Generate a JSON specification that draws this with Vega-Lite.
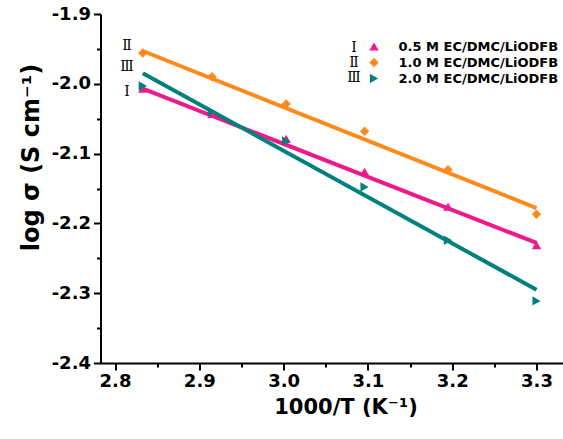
{
  "$schema": "https://vega.github.io/schema/vega-lite/v6.json",
  "width": 462,
  "height": 349,
  "autosize": {"type": "none"},
  "padding": {"left": 100.5, "top": 14, "right": 0, "bottom": 76},
  "background": "white",
  "config": {
    "view": {"stroke": null},
    "font": "DejaVu Sans",
    "axis": {"grid": false, "domainColor": "black", "tickColor": "black", "labelColor": "black", "titleColor": "black"}
  },
  "datasets": {
    "fits": [
      {"series": "0.5 M EC/DMC/LiODFB", "x": 2.833, "y": -2.007},
      {"series": "0.5 M EC/DMC/LiODFB", "x": 3.300, "y": -2.228},
      {"series": "1.0 M EC/DMC/LiODFB", "x": 2.833, "y": -1.953},
      {"series": "1.0 M EC/DMC/LiODFB", "x": 3.300, "y": -2.178},
      {"series": "2.0 M EC/DMC/LiODFB", "x": 2.833, "y": -1.985},
      {"series": "2.0 M EC/DMC/LiODFB", "x": 3.300, "y": -2.295}
    ],
    "points": [
      {"series": "0.5 M EC/DMC/LiODFB", "x": 2.833, "y": -2.007},
      {"series": "0.5 M EC/DMC/LiODFB", "x": 2.915, "y": -2.043},
      {"series": "0.5 M EC/DMC/LiODFB", "x": 3.003, "y": -2.079},
      {"series": "0.5 M EC/DMC/LiODFB", "x": 3.096, "y": -2.126},
      {"series": "0.5 M EC/DMC/LiODFB", "x": 3.195, "y": -2.176},
      {"series": "0.5 M EC/DMC/LiODFB", "x": 3.300, "y": -2.231},
      {"series": "1.0 M EC/DMC/LiODFB", "x": 2.833, "y": -1.956},
      {"series": "1.0 M EC/DMC/LiODFB", "x": 2.915, "y": -1.990},
      {"series": "1.0 M EC/DMC/LiODFB", "x": 3.003, "y": -2.029},
      {"series": "1.0 M EC/DMC/LiODFB", "x": 3.096, "y": -2.068},
      {"series": "1.0 M EC/DMC/LiODFB", "x": 3.195, "y": -2.123},
      {"series": "1.0 M EC/DMC/LiODFB", "x": 3.300, "y": -2.187},
      {"series": "2.0 M EC/DMC/LiODFB", "x": 2.833, "y": -2.003},
      {"series": "2.0 M EC/DMC/LiODFB", "x": 2.915, "y": -2.040},
      {"series": "2.0 M EC/DMC/LiODFB", "x": 3.003, "y": -2.082},
      {"series": "2.0 M EC/DMC/LiODFB", "x": 3.096, "y": -2.148},
      {"series": "2.0 M EC/DMC/LiODFB", "x": 3.195, "y": -2.224},
      {"series": "2.0 M EC/DMC/LiODFB", "x": 3.300, "y": -2.311}
    ],
    "numerals": [
      {"label": "Ⅱ", "x": 2.8142, "y": -1.9458},
      {"label": "Ⅲ", "x": 2.8142, "y": -1.9759},
      {"label": "Ⅰ", "x": 2.8142, "y": -2.0117},
      {"label": "Ⅰ", "x": 3.0835, "y": -1.9487},
      {"label": "Ⅱ", "x": 3.0835, "y": -1.9702},
      {"label": "Ⅲ", "x": 3.0835, "y": -1.9917}
    ]
  },
  "layer": [
    {
      "data": {"name": "fits"},
      "transform": [{"filter": "datum.series === '0.5 M EC/DMC/LiODFB'"}],
      "mark": {"type": "line", "strokeWidth": 4, "color": "#EE1A8C"},
      "encoding": {
        "x": {
          "field": "x", "type": "quantitative",
          "scale": {"domain": [2.7828, 3.3308], "nice": false, "zero": false},
          "axis": {
            "orient": "bottom", "values": [2.8, 2.9, 3.0, 3.1, 3.2, 3.3], "format": ".1f",
            "domainWidth": 2, "tickWidth": 2, "tickSize": 7, "labelPadding": 2,
            "labelFont": "DejaVu Sans", "labelFontWeight": "bold", "labelFontSize": 18,
            "title": "1000/T (K⁻¹)", "titleFont": "DejaVu Sans", "titleFontWeight": "bold", "titleFontSize": 21,
            "titlePadding": 6, "titleX": 245
          }
        },
        "y": {
          "field": "y", "type": "quantitative",
          "scale": {"domain": [-2.4, -1.9], "nice": false, "zero": false},
          "axis": {
            "orient": "left", "values": [-2.4, -2.3, -2.2, -2.1, -2.0, -1.9],
            "labelExpr": "replace(format(datum.value, '.1f'), '−', '-')",
            "domainWidth": 2, "tickWidth": 2, "tickSize": 7, "labelPadding": 3,
            "labelFont": "DejaVu Sans", "labelFontWeight": "bold", "labelFontSize": 18,
            "title": "log σ (S cm⁻¹)", "titleFont": "DejaVu Sans", "titleFontWeight": "bold", "titleFontSize": 24,
            "titlePadding": 8, "titleY": 143
          }
        }
      }
    },
    {
      "data": {"name": "fits"},
      "transform": [{"filter": "datum.series === '1.0 M EC/DMC/LiODFB'"}],
      "mark": {"type": "line", "strokeWidth": 4, "color": "#FF8A1C"},
      "encoding": {
        "x": {"field": "x", "type": "quantitative", "axis": null},
        "y": {"field": "y", "type": "quantitative", "axis": null}
      }
    },
    {
      "data": {"name": "fits"},
      "transform": [{"filter": "datum.series === '2.0 M EC/DMC/LiODFB'"}],
      "mark": {"type": "line", "strokeWidth": 4, "color": "#00807F"},
      "encoding": {
        "x": {"field": "x", "type": "quantitative", "axis": null},
        "y": {"field": "y", "type": "quantitative", "axis": null}
      }
    },
    {
      "data": {"name": "points"},
      "mark": {"type": "point", "filled": true, "opacity": 1, "size": 90},
      "encoding": {
        "x": {
          "field": "x", "type": "quantitative",
          "axis": {"orient": "bottom", "values": [2.85, 2.95, 3.05, 3.15, 3.25], "labels": false, "domain": false, "tickWidth": 2, "tickSize": 4, "title": null}
        },
        "y": {
          "field": "y", "type": "quantitative",
          "axis": {"orient": "left", "values": [-2.35, -2.25, -2.15, -2.05, -1.95], "labels": false, "domain": false, "tickWidth": 2, "tickSize": 4, "title": null}
        },
        "color": {
          "field": "series", "type": "nominal",
          "scale": {"domain": ["0.5 M EC/DMC/LiODFB", "1.0 M EC/DMC/LiODFB", "2.0 M EC/DMC/LiODFB"], "range": ["#EE1A8C", "#FF8A1C", "#00807F"]},
          "legend": {
            "orient": "none", "legendX": 267, "legendY": 26, "title": null, "padding": 0,
            "labelFont": "DejaVu Sans", "labelFontWeight": "bold", "labelFontSize": 13, "labelColor": "black",
            "symbolSize": 90, "labelOffset": 18, "rowPadding": 2, "symbolStrokeWidth": 0, "symbolOpacity": 1
          }
        },
        "shape": {
          "field": "series", "type": "nominal",
          "scale": {"domain": ["0.5 M EC/DMC/LiODFB", "1.0 M EC/DMC/LiODFB", "2.0 M EC/DMC/LiODFB"], "range": ["triangle-up", "diamond", "triangle-right"]}
        }
      }
    },
    {
      "data": {"name": "numerals"},
      "mark": {"type": "text", "font": "DejaVu Serif", "fontSize": 14, "align": "center", "baseline": "middle", "color": "black"},
      "encoding": {
        "x": {"field": "x", "type": "quantitative", "axis": null},
        "y": {"field": "y", "type": "quantitative", "axis": null},
        "text": {"field": "label"}
      }
    },
    {
      "mark": {"type": "rule", "strokeWidth": 2, "color": "black"},
      "encoding": {"y": {"datum": -1.9, "axis": null}}
    }
  ],
  "resolve": {"axis": {"x": "independent", "y": "independent"}}
}
